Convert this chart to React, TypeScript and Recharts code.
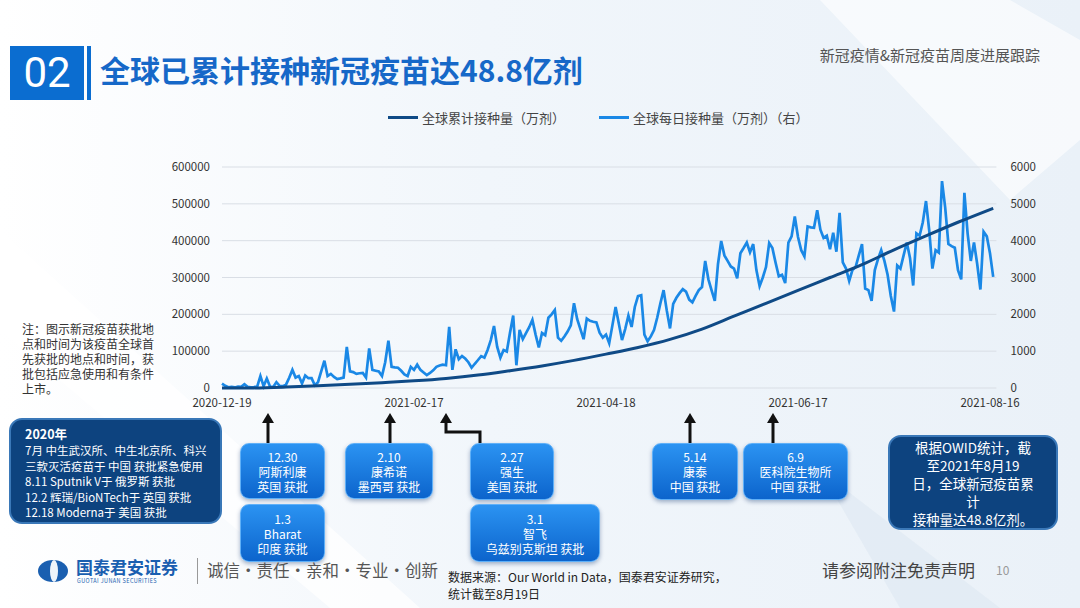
import { LineChart, Line, XAxis, YAxis, CartesianGrid, Legend } from "recharts";

// day offsets counted from 2020-12-19
const tickDays = [0, 60, 120, 180, 240];
const tickLabels = ["2020-12-19", "2021-02-17", "2021-04-18", "2021-06-17", "2021-08-16"];
const leftTicks = [0, 100000, 200000, 300000, 400000, 500000, 600000];
const rightTicks = [0, 1000, 2000, 3000, 4000, 5000, 6000];

// 全球每日接种量（万剂），one value per day from 2020-12-19
const dailyDoses = [
  120, 60, 20, 30, 15, 40, 30, 100, 30, 20, 25, 40, 325, 50, 258, 40, 30, 158, 60, 50,
  90, 280, 492, 283, 325, 125, 342, 267, 267, 75, 158, 450, 742, 325, 383, 300, 242, 260, 283, 1117,
  450, 433, 383, 400, 408, 283, 1075, 492, 470, 450, 325, 700, 1283, 575, 560, 550, 467, 367, 325, 575,
  492, 633, 492, 420, 350, 408, 480, 575, 610, 633, 617, 1658, 492, 1050, 783, 867, 800, 700, 550, 658,
  760, 867, 825, 1033, 1300, 1683, 1117, 825, 1033, 992, 1500, 1967, 617, 1575, 1325, 1492, 1650, 1850, 1450, 1100,
  1492, 1433, 1908, 2000, 2117, 1367, 1283, 1400, 1533, 1700, 2300, 1867, 1600, 1325, 1883, 1825, 1800, 1783, 1500, 1367,
  1450, 1217, 1700, 2200, 1750, 1300, 1600, 1967, 1658, 2200, 2492, 2517, 1450, 1267, 1400, 1575, 1908, 2300, 2658, 2100,
  1617, 2283, 2450, 2575, 2683, 2617, 2400, 2325, 2500, 2658, 2742, 3450, 2950, 2650, 2367, 3367, 3992, 3600, 3450, 3300,
  3242, 2975, 3658, 3800, 3950, 3683, 3908, 3200, 2767, 3000, 3283, 3933, 3800, 3400, 3033, 3075, 2850, 3950, 4117, 4658,
  4100, 3742, 3575, 4383, 4360, 4350, 4825, 4300, 4075, 4133, 3767, 4217, 3700, 4758, 3408, 3242, 2908, 3200, 3283, 3600,
  3908, 2700, 2658, 2367, 3200, 3500, 3742, 3450, 3075, 2500, 2075, 3325, 3242, 3600, 3950, 3533, 2783, 4200, 4133, 4500,
  5075, 4283, 3242, 3742, 3675, 5617, 4900, 3908, 3850, 3808, 3200, 2950, 5300, 4200, 3450, 3950, 3367, 2675, 4242, 4117,
  3658, 3017,
];

// 全球累计接种量（万剂），read every ten days
const cumDays = [0, 10, 20, 30, 40, 50, 60, 70, 80, 90, 100, 110, 120, 130, 140, 150, 160, 170, 180, 190, 200, 210, 220, 230, 241];
const cumDoses = [
  0, 300, 2500, 6000, 10000, 14500, 19500, 26000, 35000, 47000, 60000, 75000, 92000, 110000,
  132000, 160000, 195000, 230000, 265000, 300000, 335000, 375000, 413000, 450000, 488000,
];

const chartData = dailyDoses.map((v, i) => {
  const k = cumDays.indexOf(i);
  return { day: i, daily: v, cum: k >= 0 ? cumDoses[k] : null };
});

const CJK = '"Noto Sans CJK SC", "Noto Sans", sans-serif';
const DARK = "#0f4a86";
const LIGHT = "#1a88e6";

const renderLegend = () => (
  <div style={{ display: "flex", alignItems: "center", fontFamily: CJK, fontSize: 13, color: "#444", whiteSpace: "nowrap" }}>
    <span style={{ width: 30, height: 3, background: DARK, marginRight: 4 }} />
    <span>全球累计接种量（万剂）</span>
    <span style={{ width: 30, height: 3, background: LIGHT, marginLeft: 34, marginRight: 4 }} />
    <span>全球每日接种量（万剂）（右）</span>
  </div>
);

type BoxProps = { x: number; y: number; w: number; h: number; lines: string[] };

const ApprovalBox = ({ x, y, w, h, lines }: BoxProps) => (
  <div
    style={{
      position: "absolute", left: x, top: y, width: w, height: h, boxSizing: "border-box",
      borderRadius: 9, background: "linear-gradient(#2b93f2, #0c64cc)",
      border: "1px solid #5fb0f8", boxShadow: "0 2px 4px rgba(0,40,100,0.35)",
      color: "#fff", fontFamily: CJK, fontSize: 12, lineHeight: "15px", textAlign: "center",
      display: "flex", flexDirection: "column", justifyContent: "center", whiteSpace: "nowrap",
    }}
  >
    {lines.map((t) => (
      <div key={t}>{t}</div>
    ))}
  </div>
);

const leftNotes = [
  "7月 中生武汉所、中生北京所、科兴",
  "三款灭活疫苗于 中国 获批紧急使用",
  "8.11 Sputnik V于 俄罗斯 获批",
  "12.2 辉瑞/BioNTech于 英国 获批",
  "12.18 Moderna于 美国 获批",
];

const owidNotes = ["根据OWID统计，截", "至2021年8月19", "日，全球新冠疫苗累", "计", "接种量达48.8亿剂。"];

const noteLines = ["注：图示新冠疫苗获批地", "点和时间为该疫苗全球首", "先获批的地点和时间，获", "批包括应急使用和有条件", "上市。"];

const Arrow = ({ x, y1, y2 }: { x: number; y1: number; y2: number }) => (
  <g>
    <line x1={x} y1={y1} x2={x} y2={y2 + 8} stroke="#111" strokeWidth={3} />
    <polygon points={`${x - 6},${y2 + 10} ${x + 6},${y2 + 10} ${x},${y2}`} fill="#111" />
  </g>
);

export default function App() {
  return (
    <div style={{ position: "absolute", left: 0, top: 0, width: 1080, height: 608, overflow: "hidden", background: "#eef4fa" }}>
      <svg width={1080} height={608} style={{ position: "absolute", left: 0, top: 0 }}>
        <defs>
          <linearGradient id="bg" x1="0" y1="0" x2="1" y2="0">
            <stop offset="0" stopColor="#ffffff" />
            <stop offset="0.45" stopColor="#f1f6fb" />
            <stop offset="1" stopColor="#eaf1f8" />
          </linearGradient>
        </defs>
        <rect width={1080} height={608} fill="url(#bg)" />
        <polygon points="0,230 0,330 330,608 420,608" fill="#ffffff" opacity={0.75} />
        <polygon points="820,0 1010,0 1080,40 1080,140 1010,200" fill="#ffffff" opacity={0.6} />
        <polygon points="820,470 900,608 1000,608" fill="#dde7f2" opacity={0.6} />
        <Arrow x={268} y1={443} y2={413} />
        <Arrow x={390} y1={443} y2={413} />
        <polyline points="480,443 480,432 446,432 446,421" fill="none" stroke="#111" strokeWidth={3} />
        <polygon points="440,423 452,423 446,413" fill="#111" />
        <Arrow x={690} y1={443} y2={413} />
        <Arrow x={773} y1={443} y2={413} />
      </svg>

      {/* header */}
      <div style={{ position: "absolute", left: 10, top: 46, width: 74, height: 54, background: "#0b6dd0", color: "#fff", fontFamily: "Roboto, sans-serif", fontSize: 42, lineHeight: "54px", textAlign: "center" }}>02</div>
      <div style={{ position: "absolute", left: 87, top: 46, width: 4, height: 54, background: "#0b6dd0" }} />
      <div style={{ position: "absolute", left: 100, top: 47, fontFamily: CJK, fontWeight: 700, fontSize: 30, color: "#1668c8", lineHeight: "44px", whiteSpace: "nowrap" }}>
        全球已累计接种新冠疫苗达48.8亿剂
      </div>
      <div style={{ position: "absolute", right: 40, top: 44, fontFamily: CJK, fontSize: 15, color: "#555", whiteSpace: "nowrap" }}>
        新冠疫情&新冠疫苗周度进展跟踪
      </div>

      {/* chart */}
      <div style={{ position: "absolute", left: 0, top: 0 }}>
        <LineChart width={1080} height={420} data={chartData} margin={{ top: 148, right: 23.6, bottom: 2, left: 162 }}>
          <CartesianGrid vertical={false} stroke="#d9dee5" yAxisId="left" />
          <XAxis
            dataKey="day" type="number" domain={[0, 242]} ticks={tickDays}
            tickFormatter={(d: number) => tickLabels[tickDays.indexOf(d)]}
            axisLine={false} tickLine={false} tickMargin={5} height={30}
            tick={{ fontSize: 11.5, fill: "#333", fontFamily: CJK }}
          />
          <YAxis
            yAxisId="left" domain={[0, 600000]} ticks={leftTicks} width={60}
            axisLine={false} tickLine={false} tickMargin={6}
            tick={{ fontSize: 11.5, fill: "#333", fontFamily: CJK }}
          />
          <YAxis
            yAxisId="right" orientation="right" domain={[0, 6000]} ticks={rightTicks} width={60}
            axisLine={false} tickLine={false} tickMargin={8}
            tick={{ fontSize: 11.5, fill: "#333", fontFamily: CJK, textAnchor: "start" }}
          />
          <Legend verticalAlign="top" content={renderLegend} wrapperStyle={{ top: 108, left: 388, width: 460 }} />
          <Line yAxisId="right" dataKey="daily" type="linear" stroke={LIGHT} strokeWidth={2.7} dot={false} isAnimationActive={false} />
          <Line yAxisId="left" dataKey="cum" type="monotone" stroke={DARK} strokeWidth={3} dot={false} connectNulls isAnimationActive={false} />
        </LineChart>
      </div>

      {/* note */}
      <div style={{ position: "absolute", left: 22, top: 321, fontFamily: CJK, fontSize: 12, lineHeight: "15px", color: "#333", whiteSpace: "nowrap" }}>
        {noteLines.map((t) => (
          <div key={t}>{t}</div>
        ))}
      </div>

      {/* approvals */}
      <div
        style={{
          position: "absolute", left: 9, top: 418, width: 213, height: 106, boxSizing: "border-box",
          borderRadius: 13, background: "#0d437f", border: "2px solid #3a78b8", whiteSpace: "nowrap",
          color: "#fff", fontFamily: CJK, fontSize: 11.5, lineHeight: "15.5px", padding: "5px 0 0 14px",
        }}
      >
        <div style={{ fontWeight: 700, fontSize: 12.5, lineHeight: "18px" }}>2020年</div>
        {leftNotes.map((t) => (
          <div key={t}>{t}</div>
        ))}
      </div>
      <ApprovalBox x={240} y={443} w={85} h={56} lines={["12.30", "阿斯利康", "英国 获批"]} />
      <ApprovalBox x={240} y={504} w={85} h={58} lines={["1.3", "Bharat", "印度 获批"]} />
      <ApprovalBox x={345} y={443} w={88} h={56} lines={["2.10", "康希诺", "墨西哥 获批"]} />
      <ApprovalBox x={470} y={443} w={84} h={57} lines={["2.27", "强生", "美国 获批"]} />
      <ApprovalBox x={470} y={504} w={130} h={58} lines={["3.1", "智飞", "乌兹别克斯坦 获批"]} />
      <ApprovalBox x={652} y={443} w={86} h={57} lines={["5.14", "康泰", "中国 获批"]} />
      <ApprovalBox x={743} y={443} w={105} h={57} lines={["6.9", "医科院生物所", "中国 获批"]} />
      <div
        style={{
          position: "absolute", left: 888, top: 435, width: 170, height: 95, boxSizing: "border-box",
          borderRadius: 13, background: "#0d437f", border: "2px solid #3a78b8",
          color: "#fff", fontFamily: CJK, fontSize: 13.5, lineHeight: "18px", textAlign: "center",
          display: "flex", flexDirection: "column", justifyContent: "center", whiteSpace: "nowrap",
        }}
      >
        {owidNotes.map((t) => (
          <div key={t}>{t}</div>
        ))}
      </div>

      {/* footer */}
      <div style={{ position: "absolute", left: 38, top: 560, width: 30, height: 22, borderRadius: "50%", background: "#1a5fb0" }} />
      <div style={{ position: "absolute", left: 50, top: 560, width: 8, height: 22, background: "#eef4fa", borderRadius: "50%" }} />
      <div style={{ position: "absolute", left: 76, top: 557, fontFamily: CJK, fontWeight: 700, fontSize: 17, color: "#1a5fb0", lineHeight: "20px", whiteSpace: "nowrap" }}>国泰君安证券</div>
      <div style={{ position: "absolute", left: 77, top: 578, fontFamily: CJK, fontSize: 5.5, color: "#1a5fb0", letterSpacing: 0.4, lineHeight: "7px", whiteSpace: "nowrap" }}>GUOTAI JUNAN SECURITIES</div>
      <div style={{ position: "absolute", left: 197, top: 558, width: 1, height: 26, background: "#999" }} />
      <div style={{ position: "absolute", left: 207, top: 558, fontFamily: CJK, fontSize: 16.5, color: "#555", lineHeight: "24px", whiteSpace: "nowrap" }}>诚信·责任·亲和·专业·创新</div>
      <div style={{ position: "absolute", left: 448, top: 568, fontFamily: CJK, fontSize: 12, color: "#222", lineHeight: "17px", whiteSpace: "nowrap" }}>
        <div>数据来源：Our World in Data，国泰君安证券研究，</div>
        <div>统计截至8月19日</div>
      </div>
      <div style={{ position: "absolute", left: 822, top: 558, fontFamily: CJK, fontSize: 17, color: "#444", lineHeight: "24px", whiteSpace: "nowrap" }}>请参阅附注免责声明</div>
      <div style={{ position: "absolute", left: 996, top: 562, fontFamily: CJK, fontSize: 12, color: "#999", lineHeight: "16px" }}>10</div>
    </div>
  );
}
